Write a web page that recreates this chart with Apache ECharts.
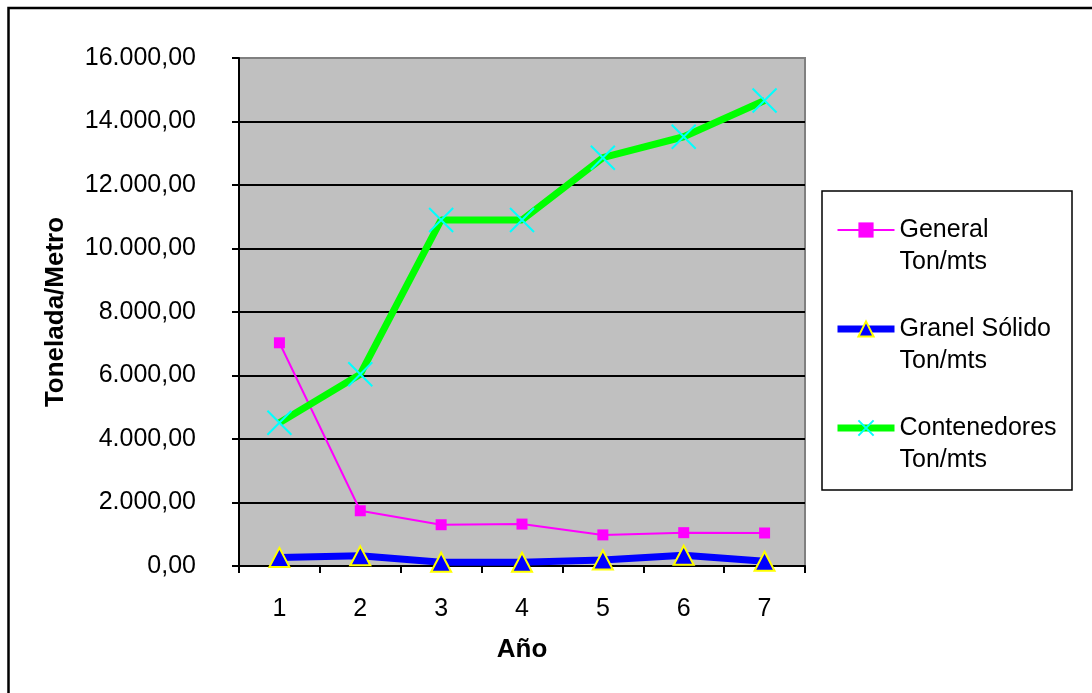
<!DOCTYPE html>
<html>
<head>
<meta charset="utf-8">
<script src="https://cdn.jsdelivr.net/npm/echarts@6/dist/echarts.min.js"></script>
<style>
  html, body { margin: 0; padding: 0; background: #ffffff; }
  #chart { width: 1092px; height: 693px; }
</style>
</head>
<body>
<div id="chart"></div>
<script>
// Years on the horizontal axis
const years = ['1', '2', '3', '4', '5', '6', '7'];

// Tonnes per metre by cargo type
const generalTon = [7030, 1740, 1300, 1320, 980, 1050, 1040];
const granelTon = [270, 320, 120, 120, 190, 340, 150];
const contenedoresTon = [4510, 6040, 10900, 10900, 12860, 13520, 14660];

// Series names as shown in the legend
const seriesNames = ['General\nTon/mts', 'Granel Sólido\nTon/mts', 'Contenedores\nTon/mts'];

// Value axis range
const yMin = 0;
const yMax = 16000;
const yStep = 2000;

// Spanish number format: 16.000,00
function formatEs(v) {
  const whole = Math.round(v).toString().replace(/\B(?=(\d{3})+(?!\d))/g, '.');
  return whole + ',00';
}

const FONT = '"Liberation Sans", Arial, sans-serif';

const chart = echarts.init(document.getElementById('chart'), null, { renderer: 'canvas' });

chart.setOption({
  backgroundColor: '#ffffff',
  animation: false,
  textStyle: { fontFamily: FONT },
  graphic: [
    {
      type: 'rect',
      z: 100,
      silent: true,
      shape: { x: 8.5, y: 8, width: 1200, height: 1000 },
      style: { fill: 'none', stroke: '#000000', lineWidth: 2.5 }
    },
    {
      type: 'rect',
      z: 100,
      silent: true,
      shape: { x: 822, y: 191, width: 250, height: 299 },
      style: { fill: 'none', stroke: '#000000', lineWidth: 1.5 }
    }
  ],
  grid: {
    left: 239,
    right: 287,
    top: 58,
    bottom: 127,
    show: true,
    backgroundColor: '#C0C0C0',
    borderColor: '#808080',
    borderWidth: 2
  },
  legend: {
    orient: 'vertical',
    left: 834,
    top: 182,
    padding: 0,
    itemWidth: 57,
    itemHeight: 19,
    itemGap: 3,
    data: [
      { name: seriesNames[0], lineStyle: { width: 2 } },
      { name: seriesNames[1], lineStyle: { width: 7 } },
      { name: seriesNames[2], lineStyle: { width: 7 } }
    ],
    // leading blank line puts the first text line level with the icon
    formatter: function (name) { return '\n' + name; },
    textStyle: {
      fontFamily: FONT,
      fontSize: 25,
      color: '#000000',
      lineHeight: 32
    }
  },
  xAxis: {
    type: 'category',
    data: years,
    boundaryGap: true,
    name: 'Año',
    nameLocation: 'middle',
    nameGap: 71,
    nameTextStyle: { fontFamily: FONT, fontSize: 26, fontWeight: 'bold', color: '#000000' },
    axisLine: { show: true, lineStyle: { color: '#000000', width: 2 } },
    axisTick: { show: true, length: 7, lineStyle: { color: '#000000', width: 2 } },
    axisLabel: { fontFamily: FONT, fontSize: 25, color: '#000000', margin: 31 },
    splitLine: { show: false }
  },
  yAxis: {
    type: 'value',
    min: yMin,
    max: yMax,
    interval: yStep,
    name: 'Tonelada/Metro',
    nameLocation: 'middle',
    nameRotate: 90,
    nameGap: 170,
    nameTextStyle: { fontFamily: FONT, fontSize: 26, fontWeight: 'bold', color: '#000000' },
    axisLine: { show: true, lineStyle: { color: '#000000', width: 2 } },
    axisTick: { show: true, inside: false, length: 7, lineStyle: { color: '#000000', width: 2 } },
    axisLabel: { fontFamily: FONT, fontSize: 25, color: '#000000', margin: 43, formatter: formatEs },
    splitLine: { show: true, showMaxLine: false, lineStyle: { color: '#000000', width: 2 } }
  },
  series: [
    {
      name: seriesNames[0],
      type: 'line',
      data: generalTon,
      symbol: 'rect',
      symbolSize: 11,
      showAllSymbol: true,
      lineStyle: { color: '#FF00FF', width: 2 },
      itemStyle: { color: '#FF00FF' }
    },
    {
      name: seriesNames[1],
      type: 'line',
      data: granelTon,
      symbol: 'triangle',
      symbolSize: [20, 19],
      showAllSymbol: true,
      lineStyle: { color: '#0000FF', width: 7 },
      itemStyle: { color: '#0000FF', borderColor: '#FFFF00', borderWidth: 2 }
    },
    {
      name: seriesNames[2],
      type: 'line',
      data: contenedoresTon,
      symbol: 'path://M0,0L10,10M10,0L0,10',
      symbolSize: 24,
      showAllSymbol: true,
      lineStyle: { color: '#00FF00', width: 7 },
      itemStyle: { color: 'transparent', borderColor: '#00FFFF', borderWidth: 2 }
    }
  ]
});
</script>
</body>
</html>
